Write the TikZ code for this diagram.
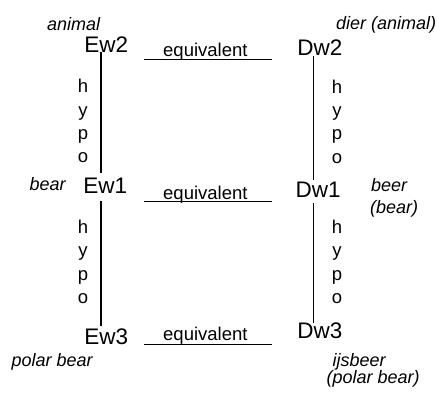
\documentclass[tikz,border=0pt]{standalone}
\usepackage{fontspec}
\setmainfont{Liberation Sans}
\begin{document}
\begin{tikzpicture}[x=1pt,y=-1pt,
  word/.style={anchor=base west,inner sep=0pt,font=\fontsize{22.5}{26}\selectfont},
  gloss/.style={anchor=base west,inner sep=0pt,font=\fontsize{18}{22}\itshape\selectfont},
  rel/.style={anchor=base west,inner sep=0pt,font=\fontsize{18.5}{22}\selectfont},
  hyp/.style={anchor=base,inner sep=0pt,align=center,font=\fontsize{18.5}{23.4}\selectfont},
  link/.style={line width=1.5pt}]
\useasboundingbox (0,0) rectangle (437,394);
% words
\node[word] (Ew2) at (84.2,52) {Ew2};
\node[word] (Ew1) at (83.2,193.3) {Ew1};
\node[word] (Ew3) at (84.2,344) {Ew3};
\node[word] (Dw2) at (297.2,55) {Dw2};
\node[word] (Dw1) at (295.5,197.7) {Dw1};
\node[word] (Dw3) at (297.2,338.3) {Dw3};
% glosses
\node[gloss] (gA) at (47,30) {animal};
\node[gloss] (gB) at (29.5,190.7) {bear};
\node[gloss] (gP) at (11.5,366.7) {polar bear};
\node[gloss] (gD) at (336,29.5) {dier (animal)};
\node[gloss] (gBe) at (371,191.7) {beer};
\node[gloss] (gBe2) at (370,213.3) {(bear)};
\node[gloss] (gI) at (332.5,366.7) {ijsbeer};
\node[gloss] (gI2) at (326.5,383) {(polar bear)};
% equivalent labels
\node[rel] (eq2) at (163,56.7) {equivalent};
\node[rel] (eq1) at (163,199) {equivalent};
\node[rel] (eq3) at (163,340.5) {equivalent};
% hypo labels (base = baseline of last line)
\node[hyp] (hL1) at (83,162.9) {h\\y\\p\\o};
\node[hyp] (hL2) at (83,303.4) {h\\y\\p\\o};
\node[hyp] (hR1) at (337,163.2) {h\\y\\p\\o};
\node[hyp] (hR2) at (337,303.5) {h\\y\\p\\o};
% line end points
\coordinate (vL1a) at (101,52);   \coordinate (vL1b) at (101,173.3);
\coordinate (vL2a) at (101,201);  \coordinate (vL2b) at (101,326);
\coordinate (vR1a) at (313.3,56); \coordinate (vR1b) at (313.3,180);
\coordinate (vR2a) at (313.3,203);\coordinate (vR2b) at (313.3,322.7);
\coordinate (hA1) at (144,59.3);  \coordinate (hB1) at (271.7,59.3);
\coordinate (hA2) at (144,201.7); \coordinate (hB2) at (271.7,201.7);
\coordinate (hA3) at (144,344.3); \coordinate (hB3) at (271.7,344.3);
\draw[link] (vL1a) -- (vL1b);
\draw[link] (vL2a) -- (vL2b);
\draw[link] (vR1a) -- (vR1b);
\draw[link] (vR2a) -- (vR2b);
\draw[link] (hA1) -- (hB1);
\draw[link] (hA2) -- (hB2);
\draw[link] (hA3) -- (hB3);
\end{tikzpicture}
\end{document}
